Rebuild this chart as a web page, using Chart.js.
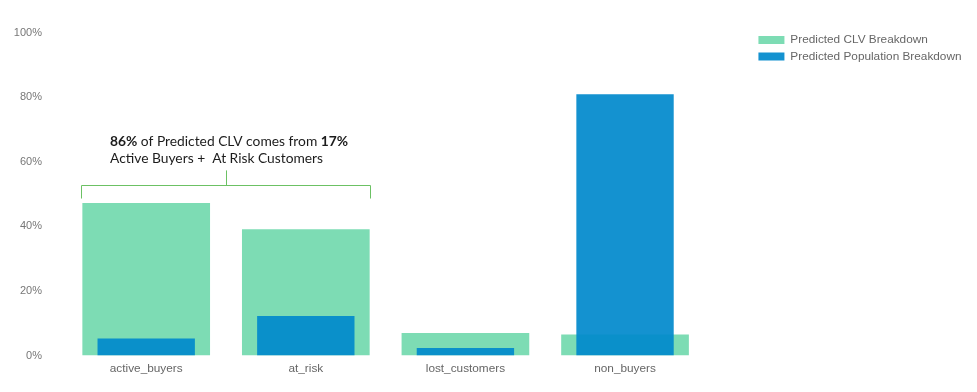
<!DOCTYPE html>
<html>
<head>
<meta charset="utf-8">
<script src="https://cdn.jsdelivr.net/npm/chart.js@4.4.0/dist/chart.umd.min.js"></script>
<style>
  html, body { margin: 0; padding: 0; background: #fff; }
  #wrap { position: relative; width: 977px; height: 392px; }
</style>
</head>
<body>
<div id="wrap"><canvas id="myChart"></canvas></div>
<script>
var categories = ['active_buyers', 'at_risk', 'lost_customers', 'non_buyers'];
var clvShare = [47.2, 39.1, 7.0, 6.5];
var populationShare = [5.3, 12.2, 2.3, 80.9];
var seriesNames = ['Predicted CLV Breakdown', 'Predicted Population Breakdown'];
var yTicks = [0, 20, 40, 60, 80, 100];
var noteLine1 = [['86%', true], [' of Predicted CLV comes from ', false], ['17%', true]];
var noteLine2 = 'Active Buyers +  At Risk Customers';

// bracket + note above the first two bars
var bracketPlugin = {
  id: 'bracket',
  afterLayout: function(chart) {
    // nudge the legend up a little so it sits above the plot top
    chart.legend.top -= 3.2;
    chart.legend.bottom -= 3.2;
  },
  afterDatasetsDraw: function(chart) {
    var ctx = chart.ctx;
    var y = chart.scales.y;
    var bars = chart.getDatasetMeta(0).data;
    var left = Math.round(bars[0].x - bars[0].width / 2) - 0.5;
    var right = Math.round(bars[1].x + bars[1].width / 2) + 0.5;
    var mid = Math.round((left + right) / 2) + 0.5;
    var yLine = Math.round(y.getPixelForValue(52.9)) + 0.5;
    var yFoot = y.getPixelForValue(48.6);
    var yTop = y.getPixelForValue(57.3);

    ctx.save();
    ctx.strokeStyle = '#6cc164';
    ctx.lineWidth = 1;
    ctx.beginPath();
    ctx.moveTo(left, yFoot);
    ctx.lineTo(left, yLine);
    ctx.lineTo(right, yLine);
    ctx.lineTo(right, yFoot);
    ctx.moveTo(mid, yLine);
    ctx.lineTo(mid, yTop);
    ctx.stroke();

    ctx.fillStyle = '#1c1c1c';
    ctx.textBaseline = 'alphabetic';
    ctx.textAlign = 'left';
    var x0 = left + 28.5;
    var x = x0;
    var y1 = y.getPixelForValue(64.9);
    noteLine1.forEach(function(part) {
      ctx.font = (part[1] ? 'bold ' : '') + '13.8px Lato';
      ctx.fillText(part[0], x, y1);
      x += ctx.measureText(part[0]).width;
    });
    ctx.font = '13.8px Lato';
    ctx.fillText(noteLine2, x0, y.getPixelForValue(59.7));
    ctx.restore();
  }
};

var ctx = document.getElementById('myChart').getContext('2d');

var data = {
  labels: categories,
  datasets: [
    {
      label: seriesNames[0],
      data: clvShare,
      backgroundColor: '#7ddcb4',
      categoryPercentage: 0.8,
      barPercentage: 1,
      order: 2
    },
    {
      label: seriesNames[1],
      data: populationShare,
      backgroundColor: 'rgba(0, 137, 204, 0.92)',
      categoryPercentage: 0.61,
      barPercentage: 1,
      order: 1
    }
  ]
};

var options = {
  responsive: true,
  maintainAspectRatio: false,
  animation: false,
  layout: {
    padding: { top: 32.5, right: 5.5, bottom: 0, left: 0 }
  },
  datasets: {
    bar: { grouped: false }
  },
  plugins: {
    tooltip: { enabled: false },
    legend: {
      position: 'right',
      align: 'start',
      maxWidth: 300,
      labels: {
        boxWidth: 26,
        boxHeight: 8,
        padding: 4.8,
        color: '#666',
        font: { family: 'Liberation Sans', size: 11.8 },
        sort: function(a, b) { return a.datasetIndex - b.datasetIndex; }
      }
    }
  },
  scales: {
    x: {
      afterFit: function(scale) { scale.height = 36.5; },
      grid: { display: false, drawTicks: false },
      border: { display: false },
      ticks: {
        color: '#666',
        padding: 6.5,
        font: { family: 'Liberation Sans', size: 11.8 }
      }
    },
    y: {
      min: 0,
      max: 100,
      afterBuildTicks: function(scale) {
        scale.ticks = yTicks.map(function(v) { return { value: v }; });
      },
      afterFit: function(scale) { scale.width = 66.4; },
      grid: { display: false, drawTicks: false },
      border: { display: false },
      ticks: {
        color: '#777',
        padding: 24.4,
        font: { family: 'Liberation Sans', size: 11 },
        callback: function(v) { return v + '%'; }
      }
    },
    // empty spacer between plot and legend
    gap: {
      position: 'right',
      display: true,
      afterFit: function(scale) { scale.width = 48.8; },
      grid: { display: false, drawTicks: false },
      border: { display: false },
      ticks: { display: false }
    }
  }
};

var myChart = new Chart(ctx, {
  type: 'bar',
  data: data,
  options: options,
  plugins: [bracketPlugin]
});
</script>
</body>
</html>
